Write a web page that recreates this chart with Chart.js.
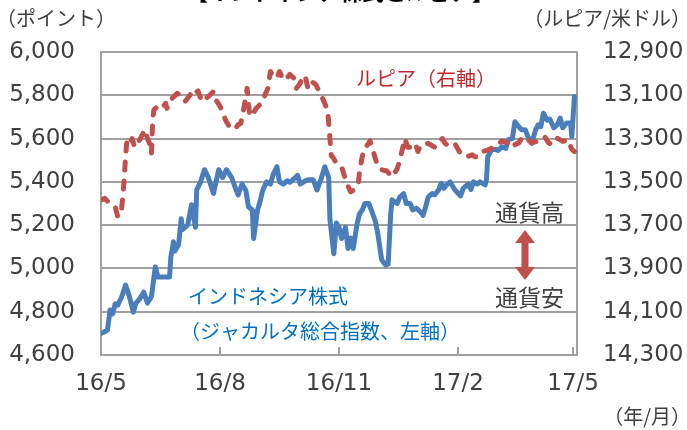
<!DOCTYPE html>
<html>
<head>
<meta charset="utf-8">
<script src="https://cdn.jsdelivr.net/npm/chart.js@4.4.0/dist/chart.umd.min.js"></script>
<style>
  html, body { margin: 0; padding: 0; background: #fff; }
  #wrap { position: relative; width: 687px; height: 430px; }
</style>
</head>
<body>
<div id="wrap"><canvas id="chart" width="687" height="430"></canvas></div>
<script>
// days counted from 2016/5/1
const tickDays = [0, 92, 184, 276, 365];
const tickLabels = ["16/5", "16/8", "16/11", "17/2", "17/5"];

// ジャカルタ総合指数 (左軸)
const stockDays = [0,2,5,7,9,11,13,16,19,22,25,27,30,33,36,39,42,44,53,54,56,57,60,62,63,67,70,73,74,77,80,83,87,91,94,97,101,104,106,109,112,114,117,118,121,123,125,128,131,133,136,138,141,144,146,152,154,158,160,164,167,170,173,176,177,180,182,184,186,189,191,193,195,198,200,202,204,207,209,212,214,217,220,222,224,225,229,231,234,236,239,241,244,248,249,251,253,256,258,261,263,265,267,270,272,274,278,280,284,286,288,291,293,297,298,299,302,305,307,310,313,315,318,320,323,325,328,330,333,336,338,340,342,345,347,350,353,355,357,360,363,364,366];
const stockValues = [4700,4705,4715,4808,4790,4837,4830,4868,4923,4870,4798,4840,4860,4890,4840,4870,5007,4960,4960,5053,5123,5080,5110,5230,5180,5200,5294,5190,5363,5400,5456,5420,5346,5456,5420,5456,5420,5370,5340,5390,5360,5285,5270,5138,5270,5310,5360,5400,5390,5432,5470,5400,5390,5405,5398,5430,5390,5405,5410,5410,5363,5410,5470,5420,5225,5068,5210,5190,5138,5190,5092,5140,5092,5207,5254,5270,5300,5300,5270,5220,5161,5040,5016,5020,5254,5317,5300,5330,5346,5300,5300,5270,5278,5254,5245,5285,5330,5346,5340,5363,5393,5370,5385,5400,5378,5360,5335,5370,5390,5365,5400,5390,5400,5386,5410,5516,5550,5550,5545,5562,5555,5595,5600,5678,5655,5641,5641,5610,5578,5641,5663,5655,5717,5685,5690,5650,5665,5695,5650,5672,5672,5609,5794];

// ルピア/米ドル (右軸)
const rupiahDays = [0,3,5,8,11,13,16,17,18,19,20,21,24,26,30,34,36,38,39,40,41,44,47,50,51,55,59,61,65,69,71,73,75,78,80,84,87,88,92,93,96,97,100,104,106,108,110,113,115,118,120,124,129,131,133,136,138,141,144,146,149,151,154,156,158,160,163,166,168,171,175,176,177,178,179,182,186,190,193,195,199,200,202,203,207,208,212,214,217,221,225,229,231,235,237,239,243,245,247,249,253,258,261,264,266,270,274,277,279,283,287,289,292,295,299,302,305,307,310,314,316,320,323,326,330,333,337,341,343,346,349,351,353,357,361,364,366];
const rupiahValues = [13583,13576,13590,13606,13615,13662,13620,13560,13480,13384,13314,13330,13300,13340,13305,13259,13300,13330,13370,13206,13166,13150,13160,13137,13160,13114,13091,13100,13129,13097,13110,13090,13080,13129,13120,13100,13083,13114,13150,13166,13210,13222,13253,13253,13236,13230,13175,13068,13198,13180,13160,13137,13068,12990,13010,13020,12990,13030,13020,13004,13020,13068,13045,13010,13015,13068,13037,13050,13074,13110,13166,13222,13300,13380,13384,13415,13430,13507,13546,13540,13507,13444,13384,13350,13322,13310,13390,13430,13444,13450,13477,13440,13400,13299,13340,13340,13322,13360,13330,13330,13322,13340,13314,13300,13322,13340,13328,13360,13375,13384,13375,13384,13384,13360,13353,13345,13335,13328,13310,13320,13305,13328,13320,13291,13305,13320,13313,13300,13291,13320,13328,13320,13299,13313,13305,13350,13360];

const gray = "#404040";
const gridGray = "#a0a0a0";
const fontFamily = "'DejaVu Sans', Verdana, sans-serif";
const jpFont = "'Noto Sans CJK JP', sans-serif";

const toPoints = (xs, ys) => xs.map((d, i) => ({ x: d, y: ys[i] }));

const notes = {
  id: "notes",
  afterDraw(chart) {
    const ctx = chart.ctx;
    const area = chart.chartArea;
    const xs = chart.scales.x;

    // inward tick marks on the date axis
    ctx.save();
    ctx.strokeStyle = gridGray;
    ctx.lineWidth = 2;
    tickDays.forEach(d => {
      const px = Math.round(xs.getPixelForValue(d));
      ctx.beginPath();
      ctx.moveTo(px, area.bottom - 8);
      ctx.lineTo(px, area.bottom);
      ctx.stroke();
    });

    // title, cut off by the top edge as in the source picture
    ctx.fillStyle = "#000";
    ctx.font = "bold 22px " + jpFont;
    ctx.textBaseline = "alphabetic";
    ctx.fillText("【インドネシア株式とルピア】", 186, -0.5);

    ctx.textBaseline = "middle";
    ctx.fillStyle = gray;
    ctx.font = "20px " + jpFont;
    ctx.textAlign = "left";
    ctx.fillText("（ポイント）", -4, 18);
    ctx.textAlign = "right";
    ctx.fillText("（ルピア/米ドル）", 691, 18);
    ctx.fillText("（年/月）", 691, 416);

    ctx.textAlign = "left";
    ctx.fillStyle = "#c0282d";
    ctx.fillText("ルピア（右軸）", 356, 78);
    ctx.fillStyle = "#0070c0";
    ctx.fillText("インドネシア株式", 188, 296);
    ctx.fillText("（ジャカルタ総合指数、左軸）", 180, 331);

    ctx.fillStyle = gray;
    ctx.font = "23px " + jpFont;
    ctx.fillText("通貨高", 495, 212);
    ctx.fillText("通貨安", 495, 297);

    // double arrow
    ctx.fillStyle = "#c0504d";
    const ax = 525;
    ctx.beginPath();
    ctx.moveTo(ax, 230);
    ctx.lineTo(ax + 10, 243);
    ctx.lineTo(ax + 3.5, 243);
    ctx.lineTo(ax + 3.5, 267);
    ctx.lineTo(ax + 10, 267);
    ctx.lineTo(ax, 280);
    ctx.lineTo(ax - 10, 267);
    ctx.lineTo(ax - 3.5, 267);
    ctx.lineTo(ax - 3.5, 243);
    ctx.lineTo(ax - 10, 243);
    ctx.closePath();
    ctx.fill();
    ctx.restore();
  }
};

new Chart(document.getElementById("chart"), {
  type: "line",
  data: {
    datasets: [
      {
        label: "ルピア（右軸）",
        data: toPoints(rupiahDays, rupiahValues),
        yAxisID: "y1",
        borderColor: "#c0504d",
        borderWidth: 5,
        borderDash: [8, 11],
        borderCapStyle: "round",
        borderJoinStyle: "round",
        pointRadius: 0,
        tension: 0
      },
      {
        label: "インドネシア株式",
        data: toPoints(stockDays, stockValues),
        yAxisID: "y",
        borderColor: "#4a7ebb",
        borderWidth: 5,
        borderCapStyle: "round",
        borderJoinStyle: "round",
        pointRadius: 0,
        tension: 0
      }
    ]
  },
  options: {
    responsive: false,
    animation: false,
    layout: { padding: { top: 52, left: 0, right: 0, bottom: 0 } },
    plugins: { legend: { display: false }, tooltip: { enabled: false } },
    scales: {
      x: {
        type: "linear",
        min: 0,
        max: 368,
        afterBuildTicks: s => { s.ticks = tickDays.map(v => ({ value: v })); },
        afterFit: s => { s.height = 75; },
        grid: { display: false, drawTicks: false },
        border: { display: true, color: gridGray, width: 2 },
        ticks: {
          padding: 15,
          color: gray,
          font: { family: fontFamily, size: 23 },
          maxRotation: 0,
          autoSkip: false,
          callback: v => tickLabels[tickDays.indexOf(v)]
        }
      },
      y: {
        position: "left",
        min: 4600,
        max: 6000,
        afterFit: s => { s.width = 101; },
        grid: { color: gridGray, lineWidth: 2, drawTicks: false },
        border: { display: true, color: gridGray, width: 2 },
        ticks: {
          stepSize: 200,
          padding: 26,
          color: gray,
          font: { family: fontFamily, size: 23 },
          callback: v => v.toLocaleString("en-US")
        }
      },
      y1: {
        position: "right",
        reverse: true,
        min: 12900,
        max: 14300,
        afterFit: s => { s.width = 110; },
        grid: { display: false, drawTicks: false },
        border: { display: true, color: gridGray, width: 2 },
        ticks: {
          stepSize: 200,
          padding: 26,
          color: gray,
          font: { family: fontFamily, size: 23 },
          callback: v => v.toLocaleString("en-US")
        }
      }
    }
  },
  plugins: [notes]
});
</script>
</body>
</html>
